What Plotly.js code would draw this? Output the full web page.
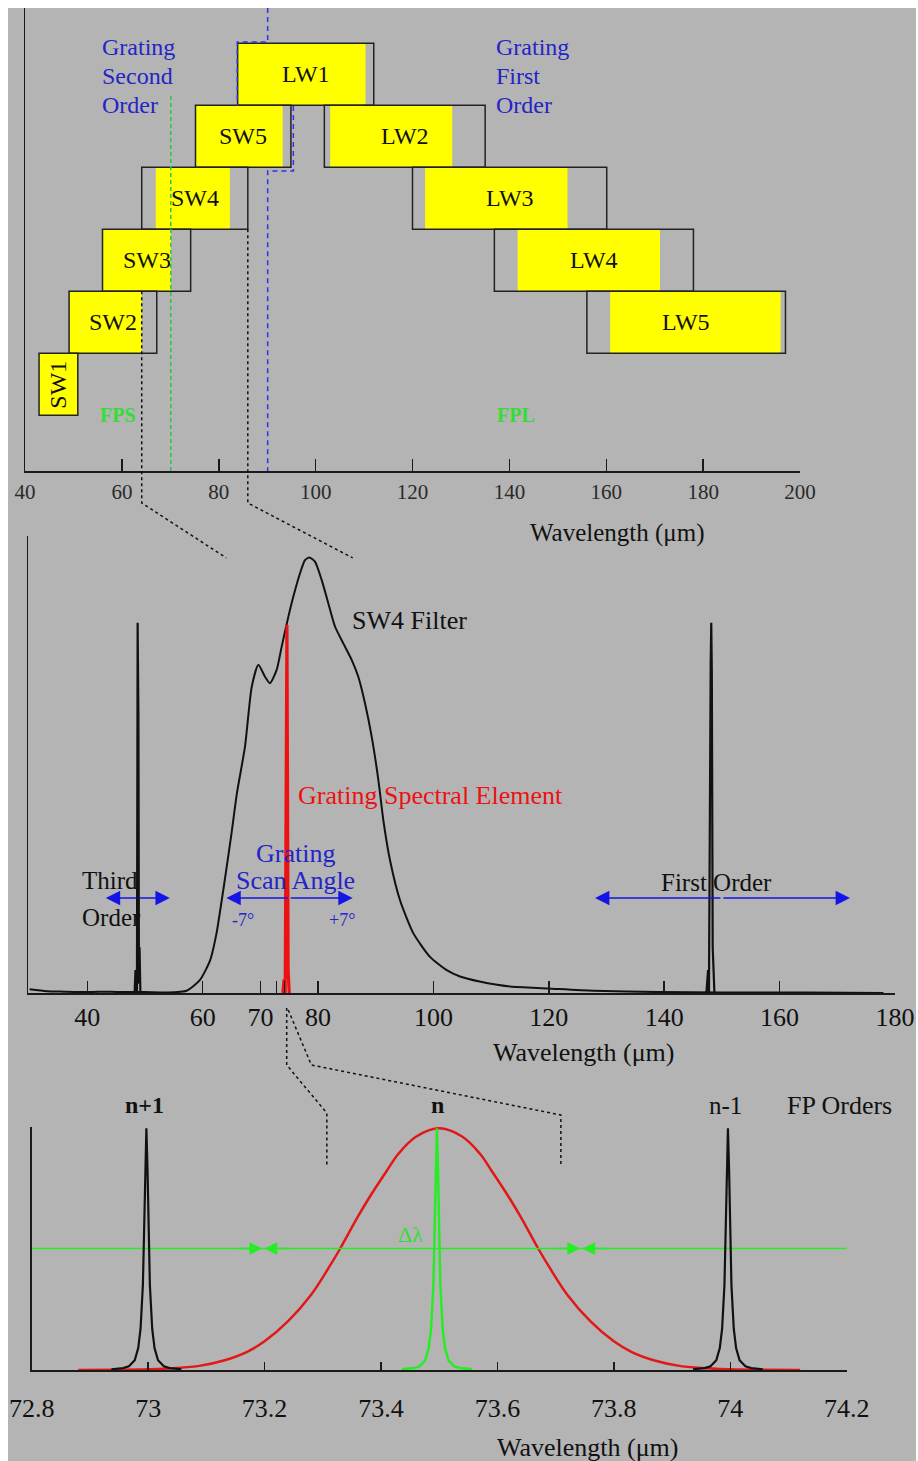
<!DOCTYPE html>
<html>
<head>
<meta charset="utf-8">
<script src="https://cdn.plot.ly/plotly-3.0.1.min.js"></script>
<style>
  html, body { margin: 0; padding: 0; background: #ffffff; }
  #chart { position: absolute; left: 8px; top: 8px; width: 908px; height: 1453px; }
</style>
</head>
<body>
<div id="chart"></div>
<script>
// ---------------- DATA ----------------
// Top panel: PACS filter bands (wavelength, micron)
const filterNames = ['SW1','SW2','SW3','SW4','SW5','LW1','LW2','LW3','LW4','LW5'];
const outerStart  = [42.9, 49.1, 56.0, 64.1, 75.2, 83.9, 101.8, 120.0, 136.9, 156.0];
const outerEnd    = [50.9, 67.2, 74.2, 86.0, 94.9, 112.0, 135.0, 160.1, 178.0, 197.0];
const yellowStart = [42.9, 49.1, 56.0, 67.0, 75.2, 83.9, 103.0, 122.6, 141.7, 160.8];
const yellowEnd   = [50.9, 64.1, 70.1, 82.3, 93.2, 110.3, 128.2, 152.0, 171.1, 196.0];
const rowBase     = [0.9, 1.9, 2.9, 3.9, 4.9, 5.9, 4.9, 3.9, 2.9, 1.9];
const fpsSplit    = 70.1;               // green FPS/FPL boundary
const blueUpperX  = [90.1, 90.1, 83.83, 83.83];
const blueUpperY  = [7.47, 6.92, 6.92, 5.89];
const blueLowerX  = [95.4, 95.4, 90.1, 90.1];
const blueLowerY  = [5.89, 4.84, 4.84, 0];

// Middle panel: SW4 filter transmission
const filterX = [30, 33, 36, 40, 44, 47, 50, 53.8, 57.2, 59.5, 61.3, 62.4, 63.3, 64.16, 65.0, 65.93, 67.33, 68.5, 69.64, 70.8, 71.66, 72.82, 73.69, 74.84, 75.7, 76.86, 77.73, 78.48, 79.46, 80.62, 81.77, 82.93, 84.37, 85.82, 86.97, 88.13, 89.29, 90.45, 91.3, 92.46, 94.2, 96.5, 99.4, 102.3, 104.6, 108.0, 113.3, 119.8, 127.7, 139.3, 150, 165, 178];
const filterY = [0.008, 0.004, 0.003, 0.002, 0.003, 0.002, 0.002, 0.001, 0.005, 0.028, 0.072, 0.131, 0.203, 0.276, 0.35, 0.437, 0.539, 0.670, 0.718, 0.692, 0.678, 0.707, 0.758, 0.823, 0.867, 0.918, 0.947, 0.953, 0.944, 0.904, 0.853, 0.802, 0.765, 0.729, 0.692, 0.634, 0.561, 0.466, 0.379, 0.291, 0.203, 0.131, 0.079, 0.050, 0.036, 0.025, 0.014, 0.010, 0.005, 0.002, 0.001, 0.001, 0.0];
const thirdX = [48.2, 48.35, 48.45, 48.6, 48.72, 48.78, 48.86, 48.95, 49.05, 49.2];
const thirdY = [0.0, 0.05, 0.0, 0.0, 0.81, 0.66, 0.6, 0.02, 0.1, 0.0];
const firstX = [147.3, 147.6, 147.75, 147.9, 148.05, 148.15, 148.25, 148.4, 148.55, 148.7, 149.0];
const firstY = [0.0, 0.05, 0.0, 0.6, 0.72, 0.81, 0.7, 0.1, 0.05, 0.0, 0.0];
const elemX = [73.9, 74.1, 74.3, 74.5, 74.6, 74.7, 74.8, 75.0];
const elemY = [0.0, 0.03, 0.0, 0.45, 0.805, 0.45, 0.05, 0.0];
const midTickVals = [40, 60, 70, 80, 100, 120, 140, 160, 180];
const midTickText = ['40', '60', '70', '80', '100', '120', '140', '160', '180'];
const midZoomTicks = [72.8, 74.2];

// Bottom panel: grating element and FP orders
const gratX = [72.88, 72.95, 73.0, 73.05, 73.09, 73.13, 73.17, 73.2, 73.24, 73.28, 73.31, 73.33, 73.36, 73.38, 73.41, 73.43, 73.46, 73.5, 73.54, 73.57, 73.59, 73.62, 73.64, 73.67, 73.69, 73.72, 73.76, 73.8, 73.83, 73.87, 73.91, 73.95, 74.0, 74.05, 74.12];
const gratY = [0.0, 0.001, 0.003, 0.008, 0.018, 0.039, 0.075, 0.118, 0.2, 0.31, 0.42, 0.5, 0.63, 0.71, 0.82, 0.89, 0.96, 0.995, 0.96, 0.89, 0.82, 0.71, 0.63, 0.5, 0.42, 0.31, 0.2, 0.118, 0.075, 0.039, 0.018, 0.008, 0.003, 0.001, 0.0];
const np1X = [72.937, 72.957, 72.967, 72.977, 72.983, 72.987, 72.991, 72.993, 72.995, 72.997, 72.999, 73.001, 73.003, 73.007, 73.011, 73.017, 73.027, 73.037, 73.057];
const nX   = [73.436, 73.456, 73.466, 73.476, 73.482, 73.486, 73.490, 73.492, 73.494, 73.496, 73.498, 73.500, 73.502, 73.506, 73.510, 73.516, 73.526, 73.536, 73.556];
const nm1X = [73.936, 73.956, 73.966, 73.976, 73.982, 73.986, 73.990, 73.992, 73.994, 73.996, 73.998, 74.000, 74.002, 74.006, 74.010, 74.016, 74.026, 74.036, 74.056];
const fpY  = [0.003, 0.008, 0.015, 0.04, 0.09, 0.17, 0.35, 0.55, 0.82, 0.995, 0.82, 0.55, 0.35, 0.17, 0.09, 0.04, 0.015, 0.008, 0.003];
const halfLevel = 0.5;
const dlLeft = 73.198, dlRight = 73.744;
const botTickVals = [72.8, 73, 73.2, 73.4, 73.6, 73.8, 74, 74.2];
const botTickText = ['72.8', '73', '73.2', '73.4', '73.6', '73.8', '74', '74.2'];

// ---------------- LAYOUT HELPERS ----------------
const FW = 908, FH = 1453, OFF = 8;
const px = x => (x - OFF) / FW;
const py = y => 1 - (y - OFF) / FH;
const SERIF = 'Liberation Serif, Times New Roman, serif';
const BLUE = '#2424c8', ARROWBLUE = '#1414e6', GREEN = '#33dd33', RED = '#ee1111';

const axTop = {domain: [px(25), px(800)], range: [40, 200]};
const ayTop = {domain: [py(471), 1], range: [0, 7.47]};
const axMid = {domain: [px(28.3), px(895)], range: [29.77, 180]};
const ayMid = {domain: [py(993), py(536)], range: [0, 1]};
const axBot = {domain: [px(31.7), px(846.7)], range: [72.8, 74.2]};
const ayBot = {domain: [py(1370), py(1127)], range: [0, 1]};
const xp = (a, v) => a.domain[0] + (v - a.range[0]) / (a.range[1] - a.range[0]) * (a.domain[1] - a.domain[0]);
const yp = (a, v) => a.domain[0] + (v - a.range[0]) / (a.range[1] - a.range[0]) * (a.domain[1] - a.domain[0]);

const baseX = {showline: true, linecolor: '#1a1a1a', linewidth: 1.5, ticks: 'inside', tickcolor: '#1a1a1a',
  tickwidth: 1.5, showgrid: false, zeroline: false, fixedrange: true};
const baseY = {showline: true, linecolor: '#1a1a1a', linewidth: 1.5, ticks: '', showticklabels: false,
  showgrid: false, zeroline: false, fixedrange: true};

// ---------------- TRACES ----------------
const traces = [];
traces.push({type: 'bar', orientation: 'h', xaxis: 'x', yaxis: 'y',
  y: rowBase.map(b => b + 0.5), x: yellowEnd.map((e, i) => e - yellowStart[i]), base: yellowStart,
  width: 1, marker: {color: '#ffff00', line: {width: 0}}, hoverinfo: 'skip'});
traces.push({type: 'bar', orientation: 'h', xaxis: 'x', yaxis: 'y',
  y: rowBase.map(b => b + 0.5), x: outerEnd.map((e, i) => e - outerStart[i]), base: outerStart,
  width: 1, marker: {color: 'rgba(0,0,0,0)', line: {width: 1.5, color: '#222'}}, hoverinfo: 'skip'});
traces.push({type: 'scatter', mode: 'lines', xaxis: 'x', yaxis: 'y', x: [fpsSplit, fpsSplit], y: [0, 6.1],
  line: {color: '#22cc44', width: 1.5, dash: '4px,3px'}});
traces.push({type: 'scatter', mode: 'lines', xaxis: 'x', yaxis: 'y', x: blueUpperX, y: blueUpperY,
  line: {color: '#3030ee', width: 1.5, dash: '5px,4px'}});
traces.push({type: 'scatter', mode: 'lines', xaxis: 'x', yaxis: 'y', x: blueLowerX, y: blueLowerY,
  line: {color: '#3030ee', width: 1.5, dash: '5px,4px'}});

traces.push({type: 'scatter', mode: 'lines', xaxis: 'x2', yaxis: 'y2', x: filterX, y: filterY,
  line: {color: '#111', width: 2, shape: 'spline', smoothing: 0.6}});
traces.push({type: 'scatter', mode: 'lines', xaxis: 'x2', yaxis: 'y2', x: thirdX, y: thirdY,
  line: {color: '#111', width: 2.2}});
traces.push({type: 'scatter', mode: 'lines', xaxis: 'x2', yaxis: 'y2', x: firstX, y: firstY,
  line: {color: '#111', width: 2.2}});
traces.push({type: 'scatter', mode: 'lines', xaxis: 'x2', yaxis: 'y2', x: elemX, y: elemY,
  line: {color: RED, width: 3.2}});

traces.push({type: 'scatter', mode: 'lines', xaxis: 'x3', yaxis: 'y3', x: gratX, y: gratY,
  line: {color: '#e01818', width: 2.5, shape: 'spline', smoothing: 1.0}});
traces.push({type: 'scatter', mode: 'lines', xaxis: 'x3', yaxis: 'y3', x: [72.8, 74.2], y: [halfLevel, halfLevel],
  line: {color: '#22ee22', width: 1.5}});
traces.push({type: 'scatter', mode: 'lines', xaxis: 'x3', yaxis: 'y3', x: np1X, y: fpY, line: {color: '#111', width: 2.2}});
traces.push({type: 'scatter', mode: 'lines', xaxis: 'x3', yaxis: 'y3', x: nX, y: fpY, line: {color: '#22ee22', width: 2.4}});
traces.push({type: 'scatter', mode: 'lines', xaxis: 'x3', yaxis: 'y3', x: nm1X, y: fpY, line: {color: '#111', width: 2.2}});

// ---------------- ANNOTATIONS ----------------
const ann = [];
const txt = (xref, yref, x, y, text, size, color, xanchor, extra, weight) =>
  Object.assign({xref, yref, x, y, text, showarrow: false, xanchor: xanchor || 'center', yanchor: 'middle',
    font: {family: SERIF, size, color, weight: weight || 'normal'}}, extra || {});

filterNames.forEach((n, i) => {
  ann.push(txt('x', 'y', (outerStart[i] + outerEnd[i]) / 2, rowBase[i] + 0.5, n, 24, '#111', 'center',
    n === 'SW1' ? {textangle: -90} : {}));
});
['Grating', 'Second', 'Order'].forEach((t, i) => ann.push(txt('x', 'y', 55.5, [6.84, 6.37, 5.9][i], t, 24, BLUE, 'left')));
['Grating', 'First', 'Order'].forEach((t, i) => ann.push(txt('x', 'y', 136.8, [6.84, 6.37, 5.9][i], t, 24, BLUE, 'left')));
ann.push(txt('x', 'y', 59.2, 0.9, 'FPS', 20, GREEN, 'center', {}, 'bold'));
ann.push(txt('x', 'y', 141.4, 0.9, 'FPL', 20, GREEN, 'center', {}, 'bold'));

ann.push(txt('x2', 'y2', 85.5, 0.816, 'SW4 Filter', 26, '#111', 'left'));
ann.push(txt('x2', 'y2', 76.1, 0.433, 'Grating Spectral Element', 26, RED, 'left'));
ann.push(txt('x2', 'y2', 76.1, 0.306, 'Grating', 26, BLUE));
ann.push(txt('x2', 'y2', 76.1, 0.247, 'Scan Angle', 26, BLUE));
ann.push(txt('x2', 'y2', 67.0, 0.16, '-7°', 18, BLUE));
ann.push(txt('x2', 'y2', 84.1, 0.16, '+7°', 18, BLUE));
ann.push(txt('x2', 'y2', 38.7, 0.247, 'Third', 25, '#111', 'left'));
ann.push(txt('x2', 'y2', 38.7, 0.166, 'Order', 25, '#111', 'left'));
ann.push(txt('x2', 'y2', 149.1, 0.241, 'First Order', 25, '#111'));

const arrowLevel = 0.208;
const arrow = (xref, yref, tip, tail, y, color, size) => ({xref, yref, axref: xref, ayref: yref,
  x: tip, y, ax: tail, ay: y, text: '', showarrow: true, arrowhead: 2, arrowsize: size || 1.8,
  arrowwidth: 1.6, arrowcolor: color});
[[64.1, 86.0, 75.0], [43.2, 54.3, 48.75], [128.0, 172.2, 150.0]].forEach(([a, b, c]) => {
  ann.push(arrow('x2', 'y2', a, c, arrowLevel, ARROWBLUE));
  ann.push(arrow('x2', 'y2', b, c, arrowLevel, ARROWBLUE));
});

// FP order labels sit above the bottom axis range, so they are placed in paper coordinates
const fpLabelY = yp(ayBot, 1.09);
ann.push(txt('x3', 'paper', 72.993, fpLabelY, 'n+1', 24, '#111', 'center', {}, 'bold'));
ann.push(txt('x3', 'paper', 73.497, fpLabelY, 'n', 24, '#111', 'center', {}, 'bold'));
ann.push(txt('x3', 'paper', 73.992, fpLabelY, 'n-1', 25, '#111'));
ann.push(txt('x3', 'paper', 74.187, fpLabelY, 'FP Orders', 26, '#111'));
ann.push(txt('x3', 'y3', 73.45, 0.556, 'Δλ', 22, GREEN));
[dlLeft, dlRight].forEach(t => {
  ann.push({xref: 'x3', yref: 'y3', x: t - 0.002, y: halfLevel, ax: -26, ay: 0, text: '', showarrow: true,
    arrowhead: 2, arrowsize: 1.7, arrowwidth: 1.5, arrowcolor: '#22ee22'});
  ann.push({xref: 'x3', yref: 'y3', x: t + 0.002, y: halfLevel, ax: 26, ay: 0, text: '', showarrow: true,
    arrowhead: 2, arrowsize: 1.7, arrowwidth: 1.5, arrowcolor: '#22ee22'});
});

ann.push(txt('paper', 'paper', px(617), py(533), 'Wavelength (μm)', 25, '#111'));
ann.push(txt('paper', 'paper', px(584), py(1052), 'Wavelength (μm)', 26, '#111'));
ann.push(txt('paper', 'paper', px(588), py(1447), 'Wavelength (μm)', 26, '#111'));

// ---------------- ZOOM CONNECTORS ----------------
const pathOf = pts => 'M' + pts.map(p => p[0].toFixed(5) + ',' + p[1].toFixed(5)).join('L');
const dotted = {color: '#111', width: 1.5, dash: '3px,3px'};
const shapes = [
  {type: 'path', xref: 'paper', yref: 'paper', line: dotted, path: pathOf([
    [xp(axTop, 64.1), yp(ayTop, 2.9)], [xp(axTop, 64.1), py(503)], [xp(axMid, 64.1), yp(ayMid, 0.952)]])},
  {type: 'path', xref: 'paper', yref: 'paper', line: dotted, path: pathOf([
    [xp(axTop, 86.0), yp(ayTop, 3.9)], [xp(axTop, 86.0), py(503)], [xp(axMid, 86.0), yp(ayMid, 0.952)]])},
  {type: 'path', xref: 'paper', yref: 'paper', line: dotted, path: pathOf([
    [xp(axMid, 74.56), py(1008)], [xp(axMid, 74.56), py(1065)], [xp(axBot, 73.307), py(1113)], [xp(axBot, 73.307), py(1165)]])},
  {type: 'path', xref: 'paper', yref: 'paper', line: dotted, path: pathOf([
    [xp(axMid, 74.83), py(1010)], [xp(axMid, 78.84), py(1065)], [xp(axBot, 73.709), py(1115)], [xp(axBot, 73.709), py(1165)]])}
];

// ---------------- LAYOUT ----------------
const layout = {
  width: FW, height: FH, margin: {l: 0, r: 0, t: 0, b: 0, pad: 0},
  paper_bgcolor: '#b4b4b4', plot_bgcolor: 'rgba(0,0,0,0)',
  showlegend: false, barmode: 'overlay', hovermode: false,
  xaxis: Object.assign({}, baseX, axTop, {anchor: 'y', tick0: 40, dtick: 20, ticklen: 12,
    tickfont: {family: SERIF, size: 21, color: '#2a2a2a'}, ticklabelstandoff: 1}),
  yaxis: Object.assign({}, baseY, ayTop, {anchor: 'x'}),
  xaxis2: Object.assign({}, baseX, axMid, {anchor: 'y2', tickmode: 'array', tickvals: midTickVals, ticktext: midTickText,
    ticklen: 12, tickfont: {family: SERIF, size: 26, color: '#111'}, ticklabelstandoff: 0,
    minor: {tickmode: 'array', tickvals: midZoomTicks, ticks: 'inside', ticklen: 12, tickwidth: 1.5, tickcolor: '#1a1a1a', showgrid: false}}),
  yaxis2: Object.assign({}, baseY, ayMid, {anchor: 'x2'}),
  xaxis3: Object.assign({}, baseX, axBot, {anchor: 'y3', tickmode: 'array', tickvals: botTickVals, ticktext: botTickText,
    ticklen: 8, tickfont: {family: SERIF, size: 26, color: '#111'}, ticklabelstandoff: 14}),
  yaxis3: Object.assign({}, baseY, ayBot, {anchor: 'x3'}),
  annotations: ann,
  shapes: shapes
};

Plotly.newPlot('chart', traces, layout, {staticPlot: true, displayModeBar: false});
</script>
</body>
</html>
